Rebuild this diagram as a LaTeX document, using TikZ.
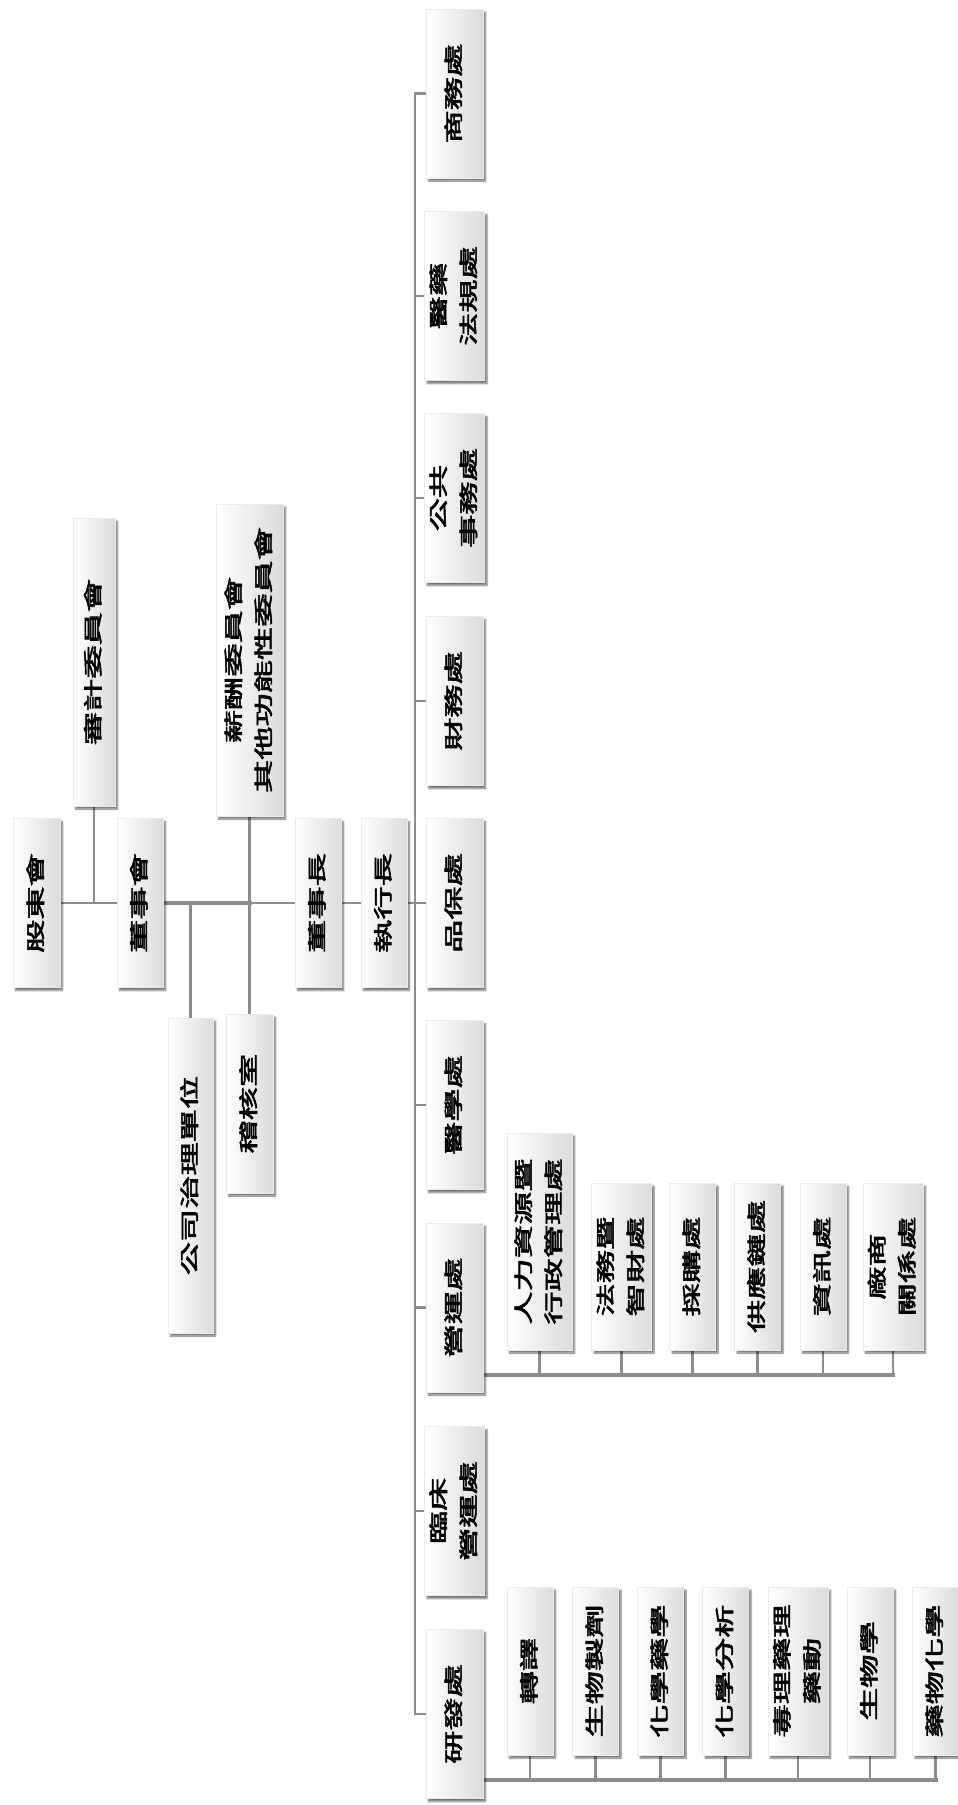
\documentclass[tikz,border=0pt]{standalone}
\usepackage{fontspec}
\usepackage{graphicx}
\newfontfamily\cjk{Noto Sans CJK TC}[AutoFakeBold=2.6]
\usetikzlibrary{positioning,calc,shadows.blur,backgrounds}
\newcommand{\orgfont}{\cjk\bfseries\fontsize{19}{30}\selectfont}
\newcommand{\vlabel}[1]{\rotatebox{90}{\scalebox{1.75}[1]{\begin{tabular}{@{}c@{}}#1\end{tabular}}}}

\begin{document}
\begin{tikzpicture}[
  x=1pt, y=-1pt,
  every node/.style={font=\orgfont},
  unit/.style={inner sep=0pt, left color=white, right color=black!14, draw=black!8,
               blur shadow={shadow xshift=2.5pt, shadow yshift=-3pt,
                            shadow blur steps=6, shadow opacity=55}},
  dept/.style={unit, minimum width=57pt, minimum height=169pt},
  sub/.style={unit, minimum width=46pt, minimum height=168pt},
  conn/.style={draw=black!45, line width=2.5pt, line cap=rect},
  thickconn/.style={draw=black!45, line width=4.5pt, line cap=rect}
]
  \useasboundingbox (0,0) rectangle (958,1805);

  % board level
  \node[unit, minimum width=47pt, minimum height=169pt] (gudong) at (36.5,903) {\vlabel{股東會}};
  \node[unit, minimum width=46pt, minimum height=169pt] (board) at (140,903) {\vlabel{董事會}};
  \node[unit, minimum width=42pt, minimum height=288pt] (auditcom) at (94,662) {\vlabel{審計委員會}};
  \node[unit, minimum width=67pt, minimum height=312pt] (paycom) at (249.5,660) {\vlabel{薪酬委員會\\其他功能性委員會}};
  \node[unit, minimum width=45pt, minimum height=315pt] (gov) at (190.5,1175.5) {\vlabel{公司治理單位}};
  \node[unit, minimum width=47pt, minimum height=179pt] (audit) at (249.5,1103.5) {\vlabel{稽核室}};
  \node[unit, minimum width=46pt, minimum height=169pt] (chair) at (318,903) {\vlabel{董事長}};
  \node[unit, minimum width=46pt, minimum height=169pt] (ceo) at (384,903) {\vlabel{執行長}};

  % departments
  \node[dept] (d1) at (454.5,93.5) {\vlabel{商務處}};
  \node[dept] (d2) at (454.5,296) {\vlabel{醫藥\\法規處}};
  \node[dept] (d3) at (454.5,498) {\vlabel{公共\\事務處}};
  \node[dept] (d4) at (454.5,701) {\vlabel{財務處}};
  \node[dept] (d5) at (454.5,903) {\vlabel{品保處}};
  \node[dept] (d6) at (454.5,1105) {\vlabel{醫學處}};
  \node[dept] (d7) at (454.5,1307.5) {\vlabel{營運處}};
  \node[dept] (d8) at (454.5,1511) {\vlabel{臨床\\營運處}};
  \node[dept] (d9) at (454.5,1714) {\vlabel{研發處}};

  % operations units
  \node[sub, minimum width=65pt, minimum height=217pt] (ops1) at (539.5,1241.5) {\vlabel{人力資源暨\\行政管理處}};
  \node[sub, minimum width=59pt, minimum height=167pt] (ops2) at (621.5,1266.5) {\vlabel{法務暨\\智財處}};
  \node[sub, minimum height=167pt] (ops3) at (692.5,1266.5) {\vlabel{採購處}};
  \node[sub, minimum height=167pt] (ops4) at (757.5,1266.5) {\vlabel{供應鏈處}};
  \node[sub, minimum height=167pt] (ops5) at (823,1266.5) {\vlabel{資訊處}};
  \node[sub, minimum width=54pt, minimum height=167pt] (ops6) at (893,1266.5) {\vlabel{廠商\\關係處}};

  % R&D units
  \node[sub] (rd1) at (530,1671) {\vlabel{轉譯}};
  \node[sub] (rd2) at (595.5,1671) {\vlabel{生物製劑}};
  \node[sub] (rd3) at (660.5,1671) {\vlabel{化學藥學}};
  \node[sub] (rd4) at (725.5,1671) {\vlabel{化學分析}};
  \node[sub, minimum width=60pt] (rd5) at (798,1671) {\vlabel{毒理藥理\\藥動}};
  \node[sub] (rd6) at (870,1671) {\vlabel{生物學}};
  \node[sub] (rd7) at (935.5,1671) {\vlabel{藥物化學}};

  \coordinate (busx) at (415,903);
  \coordinate (opsbus) at (483,1375);
  \coordinate (rdbus) at (483,1780);

  \begin{scope}[on background layer]
    \draw[conn] (gudong) -- (board);
    \draw[thickconn] (board) -- (paycom.south |- board);
    \draw[conn] (paycom.south |- board) -- (chair);
    \draw[conn] (chair) -- (ceo);
    \draw[conn] (ceo) -- (busx);
    \draw[conn] (auditcom) -- (auditcom |- board);
    \draw[conn] (paycom) -- (audit);
    \draw[conn] (gov) -- (gov |- board);

    \draw[conn] (d1 -| busx) -- (d9 -| busx);
    \foreach \i in {1,...,9}
      \draw[conn] (d\i) -- (d\i -| busx);

    \draw[thickconn] (opsbus) -- (opsbus -| ops6);
    \foreach \i in {1,...,6}
      \draw[conn] (ops\i) -- (ops\i |- opsbus);

    \draw[thickconn] (rdbus) -- (rdbus -| rd7);
    \foreach \i in {1,...,7}
      \draw[conn] (rd\i) -- (rd\i |- rdbus);
  \end{scope}
\end{tikzpicture}
\end{document}
